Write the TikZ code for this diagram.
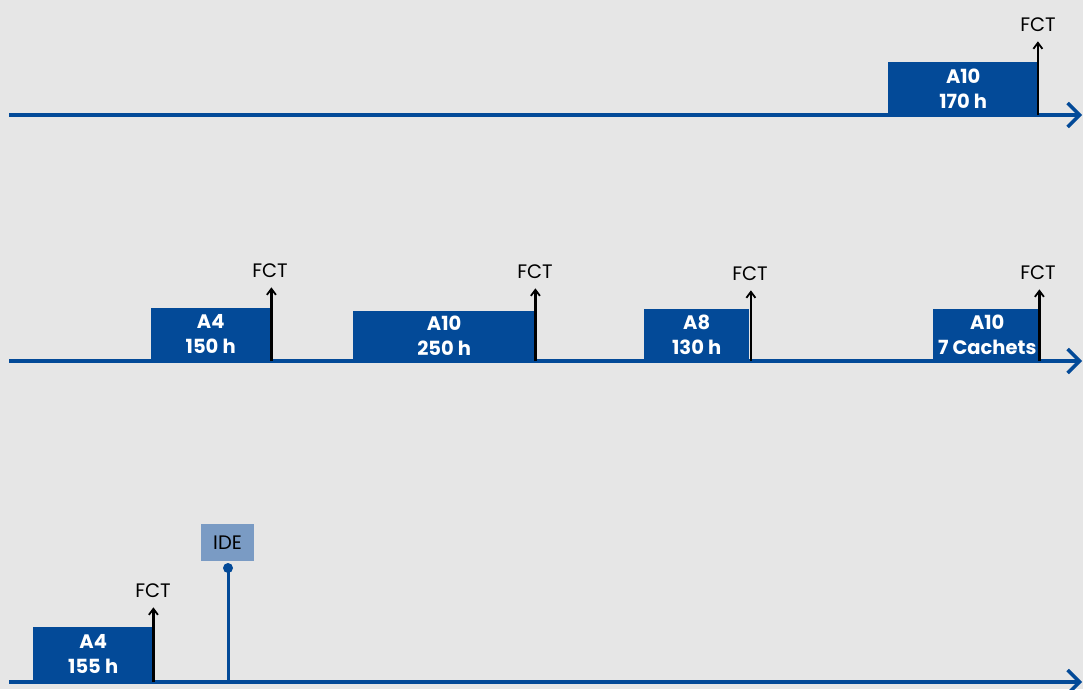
\documentclass[tikz,border=0pt]{standalone}
\usepackage{fontspec}
\setmainfont{Poppins}
\usetikzlibrary{arrows.meta}
\definecolor{bg}{HTML}{E6E6E6}
\definecolor{myblue}{HTML}{034A98}
\definecolor{idebox}{HTML}{7A9BC4}
\tikzset{
  tline/.style={draw=myblue, line width=3.6pt, -{Straight Barb[length=12pt, width=24pt, line width=3.5pt]}},
  blk/.style={fill=myblue, text=white, inner sep=0pt, anchor=south west, align=center,
    font=\fontsize{19.5}{25}\selectfont\bfseries},
  fctlbl/.style={anchor=base, inner sep=0pt, font=\fontsize{19.5}{22}\selectfont},
  fctarrow/.style={draw=black, line width=2.6pt, -{Straight Barb[length=6pt, width=9pt, line width=1.8pt]}},
}
\begin{document}
\begin{tikzpicture}[x=1pt, y=-1pt]
\fill[bg] (0,0) rectangle (1083,689);
\useasboundingbox (0,0) rectangle (1083,689);
% timelines
\coordinate (l1a) at (9,115); \coordinate (l1b) at (1082,115);
\coordinate (l2a) at (9,361); \coordinate (l2b) at (1082,361);
\coordinate (l3a) at (9,682); \coordinate (l3b) at (1082,682);
\draw[tline] (l1a) -- (l1b);
\draw[tline] (l2a) -- (l2b);
\draw[tline] (l3a) -- (l3b);
% row 1
\node[blk, minimum width=150pt, minimum height=53pt] (b1) at (888,115) {A10\\170 h};
\node[fctlbl] (f1) at (1038,31) {FCT};
\draw[fctarrow] ([xshift=-0.5pt]b1.south east) -- ([xshift=-0.5pt,yshift=-10pt]b1.south east |- f1.south);
% row 2
\node[blk, minimum width=119pt, minimum height=53pt] (b2) at (151,361) {A4\\150 h};
\node[fctlbl] (f2) at (270,277) {FCT};
\draw[fctarrow] ([xshift=1pt]b2.south east) -- ([xshift=1pt,yshift=-10pt]b2.south east |- f2.south);
\node[blk, minimum width=182pt, minimum height=50pt] (b3) at (353,361) {A10\\250 h};
\node[fctlbl] (f3) at (535,278) {FCT};
\draw[fctarrow] (b3.south east) -- ([yshift=-10pt]b3.south east |- f3.south);
\node[blk, minimum width=105pt, minimum height=52pt] (b4) at (644,361) {A8\\130 h};
\node[fctlbl] (f4) at (750,280) {FCT};
\draw[fctarrow] ([xshift=1.5pt]b4.south east) -- ([xshift=1.5pt,yshift=-10pt]b4.south east |- f4.south);
\node[blk, minimum width=108pt, minimum height=52pt] (b5) at (933,361) {A10\\7 Cachets};
\node[fctlbl] (f5) at (1038,279) {FCT};
\draw[fctarrow] ([xshift=-2pt]b5.south east) -- ([xshift=-2pt,yshift=-10pt]b5.south east |- f5.south);
% row 3
\node[blk, minimum width=120pt, minimum height=55pt] (b6) at (33,682) {A4\\155 h};
\node[fctlbl] (f6) at (153,597) {FCT};
\draw[fctarrow] (b6.south east) -- ([yshift=-10pt]b6.south east |- f6.south);
\node[fill=idebox, minimum width=53pt, minimum height=37pt, inner sep=0pt, font=\fontsize{19.5}{22}\selectfont] (ide) at (227.5,542.5) {IDE};
\coordinate (idebase) at (228,682);
\coordinate (idedot) at (228,568);
\draw[myblue, line width=3pt] (idebase) -- (idedot);
\fill[myblue] (idedot) circle (5pt);
\end{tikzpicture}
\end{document}
